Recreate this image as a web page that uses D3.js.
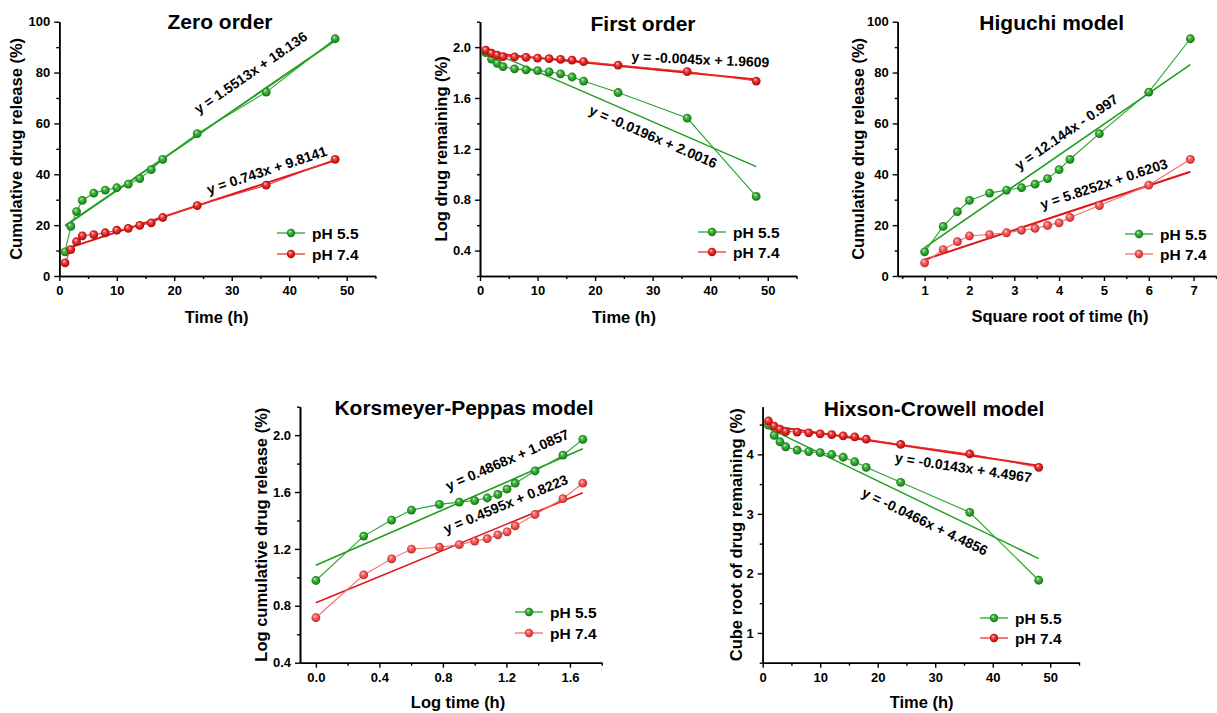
<!DOCTYPE html>
<html>
<head>
<meta charset="utf-8">
<script src="https://cdn.jsdelivr.net/npm/d3@7"></script>
<style>
  body { margin: 0; background: #fff; }
  svg { display: block; }
</style>
</head>
<body>
<svg id="chart" width="1217" height="713"></svg>
<script>
// ---- sampling times ----
const hours     = [1, 2, 3, 4, 6, 8, 10, 12, 14, 16, 18, 24, 36, 48];
const sqrtHours = [1, 1.414, 1.732, 2, 2.449, 2.828, 3.162, 3.464, 3.742, 4, 4.243, 4.899, 6, 6.928];
const logHours  = [0, 0.301, 0.477, 0.602, 0.778, 0.903, 1, 1.079, 1.146, 1.204, 1.255, 1.380, 1.556, 1.681];

// ---- cumulative drug release (%) ----
const release55 = [9.5, 19.5, 25.3, 29.7, 32.6, 33.8, 34.7, 36.1, 38.3, 41.8, 45.9, 56.0, 72.3, 93.3];
const release74 = [5.2, 10.4, 13.5, 15.8, 16.3, 17.0, 18.0, 18.7, 19.9, 20.9, 23.0, 27.7, 35.7, 45.9];

// ---- log drug remaining (%) ----
const logRemaining55 = [1.957, 1.906, 1.873, 1.847, 1.829, 1.821, 1.815, 1.806, 1.790, 1.765, 1.733, 1.643, 1.442, 0.826];
const logRemaining74 = [1.977, 1.952, 1.937, 1.925, 1.923, 1.919, 1.914, 1.910, 1.904, 1.898, 1.886, 1.859, 1.808, 1.733];

// ---- log cumulative drug release (%) ----
const logRelease55 = [0.978, 1.290, 1.403, 1.473, 1.513, 1.529, 1.540, 1.558, 1.583, 1.621, 1.662, 1.748, 1.859, 1.970];
const logRelease74 = [0.716, 1.017, 1.130, 1.199, 1.212, 1.230, 1.255, 1.272, 1.299, 1.320, 1.362, 1.442, 1.553, 1.662];

// ---- cube root of drug remaining (%) ----
const cubeRoot55 = [4.490, 4.318, 4.211, 4.127, 4.070, 4.046, 4.027, 3.997, 3.951, 3.875, 3.782, 3.530, 3.026, 1.885];
const cubeRoot74 = [4.560, 4.475, 4.422, 4.383, 4.374, 4.362, 4.344, 4.332, 4.311, 4.293, 4.254, 4.166, 4.006, 3.782];

// ---- linear fits [slope, intercept] ----
const zeroFit55    = [1.5513, 18.136];
const zeroFit74    = [0.743, 9.8141];
const firstFit55   = [-0.0196, 2.0016];
const firstFit74   = [-0.0045, 1.9609];
const higuchiFit55 = [12.144, -0.997];
const higuchiFit74 = [5.8252, 0.6203];
const peppasFit55  = [0.4868, 1.0857];
const peppasFit74  = [0.4595, 0.8223];
const hixsonFit55  = [-0.0466, 4.4856];
const hixsonFit74  = [-0.0143, 4.4967];

const seriesNames = ["pH 5.5", "pH 7.4"];

// ---- tick values ----
const timeTicks       = [0, 10, 20, 30, 40, 50];
const releaseTicks    = [0, 20, 40, 60, 80, 100];
const logRemainTicks  = [0.4, 0.8, 1.2, 1.6, 2.0];
const sqrtTimeTicks   = [1, 2, 3, 4, 5, 6, 7];
const logTimeTicks    = [0.0, 0.4, 0.8, 1.2, 1.6];
const logReleaseTicks = [0.4, 0.8, 1.2, 1.6, 2.0];
const cubeRootTicks   = [1, 2, 3, 4];

// ---- styling ----
const FONT = '"Liberation Sans", Arial, Helvetica, sans-serif';
const GREEN = "#1f9e1f", GREEN_LINE = "#2aa52a";
const RED = "#e01616", RED_LINE = "#ec3434";
const RED_LIGHT = "#f04444", RED_LIGHT_LINE = "#f76a6a";

const svg = d3.select("#chart");
const defs = svg.append("defs");

// shaded ball markers
function ballGradient(id, base) {
  const c = d3.color(base);
  const grad = defs.append("radialGradient").attr("id", id)
    .attr("cx", "50%").attr("cy", "50%").attr("r", "55%")
    .attr("fx", "36%").attr("fy", "30%");
  grad.append("stop").attr("offset", "0%").attr("stop-color", d3.interpolateRgb(base, "#fff")(0.85));
  grad.append("stop").attr("offset", "30%").attr("stop-color", d3.interpolateRgb(base, "#fff")(0.25));
  grad.append("stop").attr("offset", "65%").attr("stop-color", base);
  grad.append("stop").attr("offset", "100%").attr("stop-color", c.darker(1.4).formatHex());
}
ballGradient("ballGreen", GREEN);
ballGradient("ballRed", RED);
ballGradient("ballRedLight", RED_LIGHT);

const styleGreen    = { fit: GREEN, line: GREEN_LINE, ball: "url(#ballGreen)" };
const styleRed      = { fit: RED, line: RED_LINE, ball: "url(#ballRed)" };
const styleRedLight = { fit: RED, line: RED_LIGHT_LINE, ball: "url(#ballRedLight)" };

const panels = [
  {
    title: "Zero order", titleX: 220, titleY: 29,
    left: 59.3, right: 375.4, top: 21.7, bottom: 276,
    xDomain: [0, 55], yDomain: [0, 100],
    xTicks: timeTicks, yTicks: releaseTicks, xFmt: d3.format("d"), yFmt: d3.format("d"),
    xLabel: "Time (h)", xLabelX: 216.7, xLabelY: 323,
    yLabel: "Cumulative drug release (%)", yLabelX: 16.5,
    legendX: 277, legendY: 233, legendGap: 21,
    series: [
      { x: hours, y: release55, fit: zeroFit55, style: styleGreen, fitW: 2, label: [33.3, 80] },
      { x: hours, y: release74, fit: zeroFit74, style: styleRed, fitW: 2, label: [36.1, 41.6] }
    ]
  },
  {
    title: "First order", titleX: 643, titleY: 31,
    left: 480, right: 796.5, top: 21.7, bottom: 276,
    xDomain: [0, 55], yDomain: [0.2, 2.2],
    xTicks: timeTicks, yTicks: logRemainTicks, xFmt: d3.format("d"), yFmt: d3.format(".1f"),
    xLabel: "Time (h)", xLabelX: 624, xLabelY: 323,
    yLabel: "Log drug remaining (%)", yLabelX: 441.7,
    legendX: 698, legendY: 232, legendGap: 20,
    series: [
      { x: hours, y: logRemaining55, fit: firstFit55, style: styleGreen, fitW: 1.4, label: [30.1, 1.296] },
      { x: hours, y: logRemaining74, fit: firstFit74, style: styleRed, fitW: 2, label: [38.3, 1.903], angle: 2.5 }
    ]
  },
  {
    title: "Higuchi model", titleX: 1051.7, titleY: 29.5,
    left: 897.7, right: 1216, top: 21.7, bottom: 276,
    xDomain: [0.4, 7.5], yDomain: [0, 100],
    xTicks: sqrtTimeTicks, yTicks: releaseTicks, xFmt: d3.format("d"), yFmt: d3.format("d"),
    xLabel: "Square root of time (h)", xLabelX: 1060, xLabelY: 322,
    yLabel: "Cumulative drug release (%)", yLabelX: 858.3,
    legendX: 1125, legendY: 234, legendGap: 20,
    series: [
      { x: sqrtHours, y: release55, fit: higuchiFit55, style: styleGreen, fitW: 1.6, label: [4.16, 56.6] },
      { x: sqrtHours, y: release74, fit: higuchiFit74, style: styleRedLight, fitW: 2, label: [5.0, 36.2] }
    ]
  },
  {
    title: "Korsmeyer-Peppas model", titleX: 464, titleY: 415,
    left: 300, right: 601.7, top: 406.7, bottom: 662.7,
    xDomain: [-0.1, 1.8], yDomain: [0.4, 2.2],
    xTicks: logTimeTicks, yTicks: logReleaseTicks, xFmt: d3.format(".1f"), yFmt: d3.format(".1f"),
    xLabel: "Log time (h)", xLabelX: 458, xLabelY: 708,
    yLabel: "Log cumulative drug release (%)", yLabelX: 260.8,
    legendX: 515, legendY: 612, legendGap: 21,
    series: [
      { x: logHours, y: logRelease55, fit: peppasFit55, style: styleGreen, fitW: 1.6, label: [1.205, 1.826] },
      { x: logHours, y: logRelease74, fit: peppasFit74, style: styleRedLight, fitW: 1.6, label: [1.195, 1.515] }
    ]
  },
  {
    title: "Hixson-Crowell model", titleX: 934, titleY: 415.5,
    left: 762.7, right: 1079, top: 406.7, bottom: 662.7,
    xDomain: [0, 55], yDomain: [0.5, 4.8],
    xTicks: timeTicks, yTicks: cubeRootTicks, xFmt: d3.format("d"), yFmt: d3.format("d"),
    xLabel: "Time (h)", xLabelX: 921.7, xLabelY: 708,
    yLabel: "Cube root of drug remaining (%)", yLabelX: 735.8,
    legendX: 980, legendY: 618, legendGap: 20,
    series: [
      { x: hours, y: cubeRoot55, fit: hixsonFit55, style: styleGreen, fitW: 1.4, label: [28.2, 2.872] },
      { x: hours, y: cubeRoot74, fit: hixsonFit74, style: styleRed, fitW: 2, label: [34.9, 3.777] }
    ]
  }
];

// minor ticks sit halfway between major ticks, inside the axis domain
function minorTicks(major, domain) {
  const step = major[1] - major[0];
  const out = [];
  const lo = Math.min(...domain), hi = Math.max(...domain);
  for (let v = major[0] - step / 2; v <= hi + 1e-9; v += step) {
    if (v >= lo - 1e-9) out.push(+v.toFixed(6));
  }
  return out;
}

function equation(fit) {
  const [m, b] = fit;
  return `y = ${m}x ${b < 0 ? "-" : "+"} ${Math.abs(b)}`;
}

function styleAxis(sel) {
  sel.attr("font-family", FONT).attr("font-size", 13).attr("font-weight", "bold");
  sel.select(".domain").attr("stroke", "#000").attr("stroke-width", 1.6);
  sel.selectAll(".tick line").attr("stroke", "#000").attr("stroke-width", 1.4);
  sel.selectAll(".tick text").attr("fill", "#000");
}

function drawPanel(p) {
  const x = d3.scaleLinear().domain(p.xDomain).range([p.left, p.right]);
  const y = d3.scaleLinear().domain(p.yDomain).range([p.bottom, p.top]);
  const g = svg.append("g");

  // minor ticks (no labels)
  g.append("g").attr("transform", `translate(0,${p.bottom})`)
    .call(d3.axisBottom(x).tickValues(minorTicks(p.xTicks, p.xDomain)).tickFormat("").tickSize(3).tickSizeOuter(0))
    .call(styleAxis);
  g.append("g").attr("transform", `translate(${p.left},0)`)
    .call(d3.axisLeft(y).tickValues(minorTicks(p.yTicks, p.yDomain)).tickFormat("").tickSize(3).tickSizeOuter(0))
    .call(styleAxis);

  // major ticks and labels
  g.append("g").attr("transform", `translate(0,${p.bottom})`)
    .call(d3.axisBottom(x).tickValues(p.xTicks).tickFormat(p.xFmt).tickSize(5).tickPadding(5).tickSizeOuter(0))
    .call(styleAxis);
  g.append("g").attr("transform", `translate(${p.left},0)`)
    .call(d3.axisLeft(y).tickValues(p.yTicks).tickFormat(p.yFmt).tickSize(5).tickPadding(4).tickSizeOuter(0))
    .call(styleAxis);

  // titles
  g.append("text").attr("x", p.titleX).attr("y", p.titleY)
    .attr("text-anchor", "middle").attr("font-family", FONT).attr("font-weight", "bold")
    .attr("font-size", 21).text(p.title);
  g.append("text").attr("x", p.xLabelX).attr("y", p.xLabelY)
    .attr("text-anchor", "middle").attr("font-family", FONT).attr("font-weight", "bold")
    .attr("font-size", 16.5).text(p.xLabel);
  const yMid = (p.top + p.bottom) / 2;
  g.append("text").attr("transform", `translate(${p.yLabelX},${yMid}) rotate(-90)`)
    .attr("text-anchor", "middle").attr("dy", "0.35em").attr("font-family", FONT).attr("font-weight", "bold")
    .attr("font-size", 16.5).text(p.yLabel);

  const line = d3.line().x(d => x(d[0])).y(d => y(d[1]));

  // fitted lines
  p.series.forEach(s => {
    const [m, b] = s.fit;
    const ends = d3.extent(s.x).map(v => [v, m * v + b]);
    g.append("path").attr("d", line(ends)).attr("fill", "none")
      .attr("stroke", s.style.fit).attr("stroke-width", s.fitW);
  });

  // measured points joined by thin lines
  p.series.forEach(s => {
    const pts = s.x.map((v, i) => [v, s.y[i]]);
    g.append("path").attr("d", line(pts)).attr("fill", "none")
      .attr("stroke", s.style.line).attr("stroke-width", 1.1);
    g.append("g").selectAll("circle").data(pts).join("circle")
      .attr("cx", d => x(d[0])).attr("cy", d => y(d[1])).attr("r", 4.4)
      .attr("fill", s.style.ball);
  });

  // equation labels along the fitted lines
  p.series.forEach(s => {
    const [m, b] = s.fit;
    const ang = s.angle !== undefined ? (m < 0 ? s.angle : -s.angle)
      : Math.atan2(y(m + b) - y(b), x(1) - x(0)) * 180 / Math.PI;
    g.append("text")
      .attr("transform", `translate(${x(s.label[0])},${y(s.label[1])}) rotate(${ang})`)
      .attr("text-anchor", "middle").attr("dy", "0.35em")
      .attr("font-family", FONT).attr("font-weight", "bold").attr("font-size", 14)
      .text(equation(s.fit));
  });

  // legend
  p.series.forEach((s, i) => {
    const ly = p.legendY + i * p.legendGap;
    g.append("line").attr("x1", p.legendX).attr("x2", p.legendX + 28)
      .attr("y1", ly).attr("y2", ly).attr("stroke", s.style.line).attr("stroke-width", 1.3);
    g.append("circle").attr("cx", p.legendX + 14).attr("cy", ly).attr("r", 4.2).attr("fill", s.style.ball);
    g.append("text").attr("x", p.legendX + 35).attr("y", ly).attr("dy", "0.36em")
      .attr("font-family", FONT).attr("font-weight", "bold").attr("font-size", 15.5)
      .text(seriesNames[i]);
  });
}

panels.forEach(drawPanel);
</script>
</body>
</html>
